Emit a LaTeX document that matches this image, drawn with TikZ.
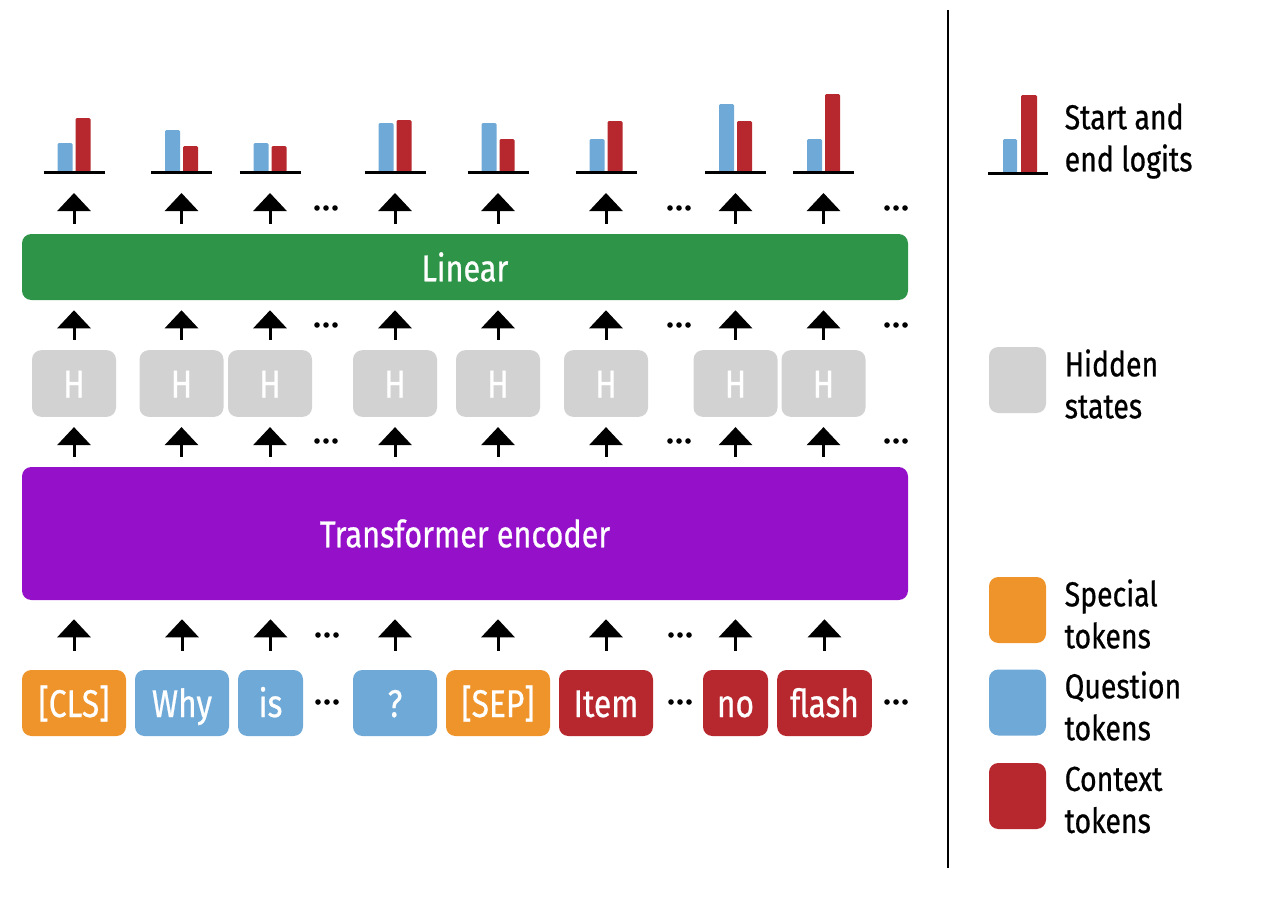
\documentclass[tikz,border=0pt]{standalone}
\usepackage{fontspec}
\setmainfont{Fira Sans}[FakeStretch=0.82,FakeBold=0.6]
\usetikzlibrary{arrows.meta}

\definecolor{specialorange}{HTML}{EE942B}
\definecolor{questionblue}{HTML}{6EA9D7}
\definecolor{contextred}{HTML}{B7282E}
\definecolor{lineargreen}{HTML}{2E9448}
\definecolor{encoderpurple}{HTML}{9511C9}
\definecolor{hiddengray}{HTML}{D2D2D2}

\newcommand\dotrow[2]{\foreach \d in {-9,0,9} \fill (#1+\d,#2) circle[radius=2.1pt];}

\begin{document}
\begin{tikzpicture}[x=0.75pt,y=-0.75pt,
  tok/.style={rounded corners=7pt,minimum height=49.5pt,inner sep=0pt,text height=24pt,text depth=3pt,text=white,font=\fontsize{29}{30}\selectfont},
  hid/.style={tok,fill=hiddengray,minimum width=63pt,minimum height=50pt},
  layer/.style={rounded corners=7pt,minimum width=664.5pt,inner sep=0pt,text=white,font=\fontsize{28}{30}\selectfont},
  up/.style={line width=2.25pt,-{Triangle[width=24.75pt,length=13.5pt]},shorten <=7.5pt,shorten >=7.5pt},
  legtext/.style={anchor=west,align=left,font=\fontsize{26}{31.5}\selectfont}]
  \useasboundingbox (0,0) rectangle (1287,907);

  \node[layer,fill=lineargreen,minimum height=49.5pt] (lin) at (465,267) {Linear};
  \node[layer,fill=encoderpurple,minimum height=99.75pt] (enc) at (465,533.5) {Transformer encoder};

  \node[tok,fill=specialorange,minimum width=78pt] (cls) at (74,703) {[CLS]};
  \node[tok,fill=questionblue,minimum width=70.5pt] (why) at (182,703) {Why};
  \node[tok,fill=questionblue,minimum width=48.75pt] (is) at (270.5,703) {is};
  \node[tok,fill=questionblue,minimum width=63pt] (qm) at (395,703) {?};
  \node[tok,fill=specialorange,minimum width=78pt] (sep) at (498,703) {[SEP]};
  \node[tok,fill=contextred,minimum width=70.5pt] (item) at (606,703) {Item};
  \node[tok,fill=contextred,minimum width=48.75pt] (no) at (735.5,703) {no};
  \node[tok,fill=contextred,minimum width=71pt] (flash) at (824.5,703) {flash};

  \foreach \x/\b/\r [count=\i] in {74/29/54,181.5/42/26,270/29/26,395/49/52,498/49/33,606/33/51,735.5/68/51,823.5/33/78}{
    \node[hid] (h\i) at (\x,383.5) {H};
    \coordinate (b\i) at (\x,172);
    \fill[questionblue,rounded corners=1pt] (\x-16.5,172) rectangle (\x-1.5,172-\b);
    \fill[contextred,rounded corners=1pt] (\x+1.5,172) rectangle (\x+16.5,172-\r);
    \draw[line width=2.25pt] (\x-30.5,172) -- (\x+30.5,172);
    \draw[up,shorten >=15.75pt] (lin.north -| b\i) -- (b\i);
    \draw[up] (h\i.north) -- (lin.south -| h\i);
    \draw[up] (enc.north -| h\i) -- (h\i.south);
  }
  \foreach \t in {cls,why,is,qm,sep,item,no,flash}
    \draw[up,shorten <=14.25pt,shorten >=14.25pt] (\t.north) -- (enc.south -| \t.north);

  \foreach \y in {208,325,441}{
    \dotrow{326}{\y}
    \dotrow{679}{\y}
    \dotrow{896}{\y}
  }
  \dotrow{327}{635}
  \dotrow{680}{635}
  \dotrow{327}{702}
  \dotrow{680}{702}
  \dotrow{896}{702}

  \draw[line width=2pt] (948,10) -- (948,868);

  \fill[questionblue,rounded corners=1pt] (1003,173) rectangle (1017,139);
  \fill[contextred,rounded corners=1pt] (1021,173) rectangle (1037,95);
  \draw[line width=2.25pt] (988,173) -- (1048,173);
  \node[legtext] (leglogits) at (1060,141) {Start and\\end logits};

  \node[hid,minimum width=42.75pt,minimum height=49.5pt] (leghid) at (1017.5,380) {};
  \node[legtext] at (1060,384) {Hidden\\states};
  \node[tok,fill=specialorange,minimum width=42.75pt] (legspecial) at (1017.5,610) {};
  \node[legtext] at (1060,614) {Special\\tokens};
  \node[tok,fill=questionblue,minimum width=42.75pt] (legquestion) at (1017.5,702.5) {};
  \node[legtext] at (1060,706) {Question\\tokens};
  \node[tok,fill=contextred,minimum width=42.75pt] (legcontext) at (1017.5,796) {};
  \node[legtext] at (1060,800) {Context\\tokens};
\end{tikzpicture}
\end{document}
